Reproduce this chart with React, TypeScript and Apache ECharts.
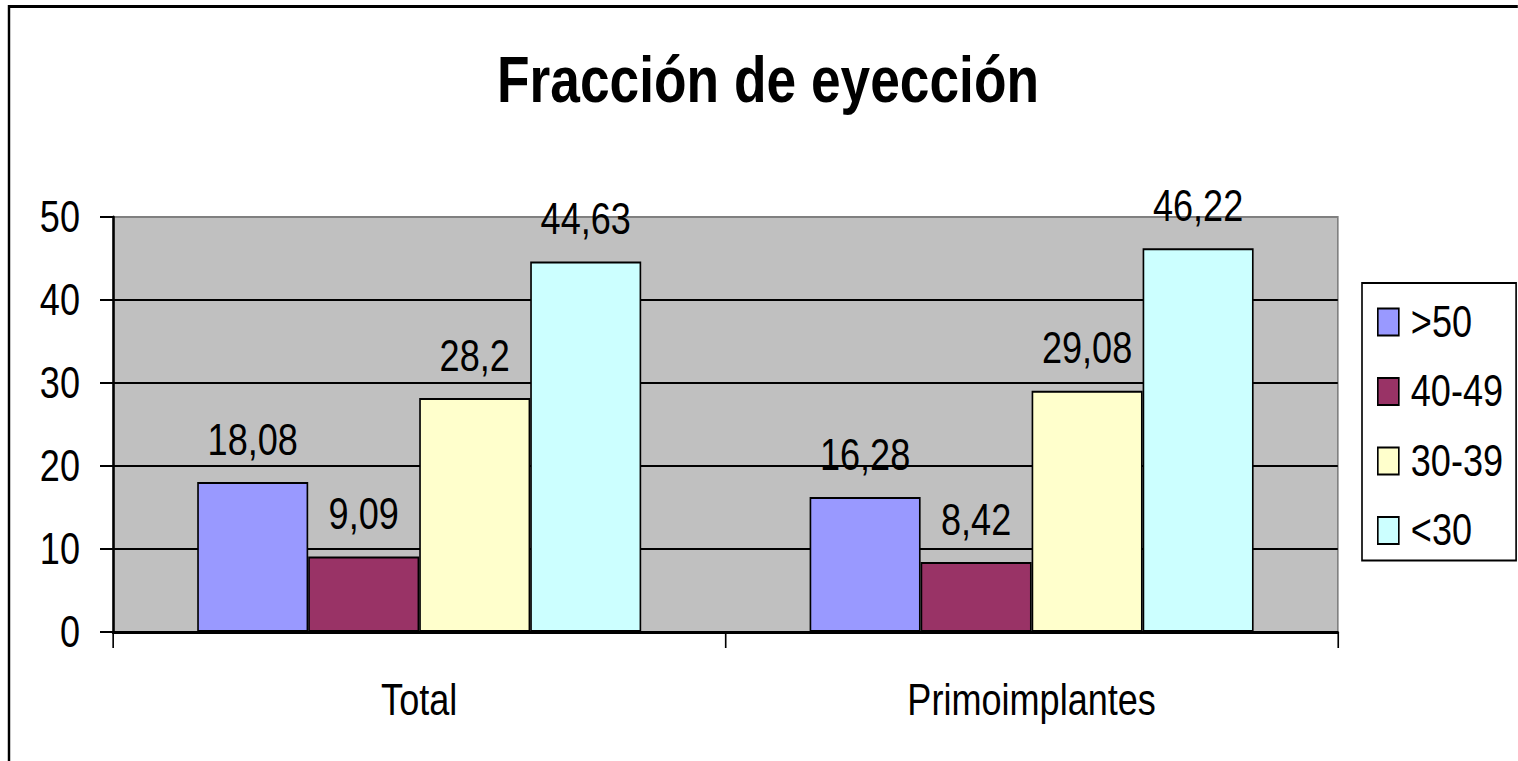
import React, { useEffect, useRef } from "react";
import * as echarts from "echarts";

const categories = ["Total", "Primoimplantes"];
const seriesNames = [">50", "40-49", "30-39", "<30"];
const seriesColors = ["#9999FF", "#993366", "#FFFFCC", "#CCFFFF"];
const valuesGt50 = [18.08, 16.28];
const values40to49 = [9.09, 8.42];
const values30to39 = [28.2, 29.08];
const valuesLt30 = [44.63, 46.22];
const yTicks = { min: 0, max: 50, interval: 10 };
const titleText = "Fracción de eyección";

const FONT = '"Liberation Sans", Arial, sans-serif';
// The reference uses a horizontally condensed typeface; the whole chart is
// drawn wider and squeezed horizontally so the text keeps that narrow look.
const SX = 0.82;
const W = 1518;
const H = 761;
const IW = W / SX;
const px = (x: number) => x / SX;

export default function App() {
  const ref = useRef<HTMLDivElement>(null);
  useEffect(() => {
    if (!ref.current) return;
    const chart = echarts.init(ref.current, null, { renderer: "svg" });
    const allValues = [valuesGt50, values40to49, values30to39, valuesLt30];
    chart.setOption({
      animation: false,
      backgroundColor: "#ffffff",
      graphic: [
        {
          type: "rect",
          shape: { x: px(9), y: 6.5, width: 3000, height: 2000 },
          style: { fill: "none", stroke: "#000", lineWidth: 3 },
          silent: true,
          z: 100,
        },
        {
          type: "text",
          x: px(768),
          y: 80,
          style: {
            text: titleText,
            fontSize: 65,
            fontWeight: "bold",
            fontFamily: FONT,
            fill: "#000",
            textAlign: "center",
            textVerticalAlign: "middle",
          },
        },
      ],
      legend: {
        orient: "vertical",
        left: px(1362),
        top: 283,
        data: seriesNames,
        itemWidth: px(21),
        itemHeight: 27,
        itemGap: 25.5,
        padding: [17, px(13), 8, px(15)],
        borderColor: "#000",
        borderWidth: 2,
        backgroundColor: "#fff",
        icon: "rect",
        textStyle: {
          fontFamily: FONT,
          fontSize: 44,
          lineHeight: 44,
          color: "#000",
          padding: [0, 0, 0, px(12) - 5],
        },
      },
      grid: {
        left: px(113),
        right: px(180),
        top: 217,
        bottom: 129,
        show: true,
        backgroundColor: "#C0C0C0",
        borderColor: "#808080",
        borderWidth: 2,
      },
      xAxis: {
        type: "category",
        data: categories,
        axisLine: { show: true, lineStyle: { color: "#000", width: 3 } },
        axisTick: { show: true, length: 16, lineStyle: { color: "#000", width: 2 } },
        axisLabel: {
          fontFamily: FONT,
          fontSize: 44,
          color: "#000",
          margin: 46,
        },
        splitLine: { show: false },
      },
      yAxis: {
        type: "value",
        min: yTicks.min,
        max: yTicks.max,
        interval: yTicks.interval,
        axisLine: { show: true, lineStyle: { color: "#000", width: 3 } },
        axisTick: { show: true, length: px(13), lineStyle: { color: "#000", width: 2 } },
        axisLabel: {
          fontFamily: FONT,
          fontSize: 44,
          color: "#000",
          margin: px(33),
        },
        splitLine: {
          show: true,
          lineStyle: {
            color: ["#000", "#000", "#000", "#000", "#000", "#808080"],
            width: 2,
          },
        },
      },
      series: seriesNames.map((name, i) => ({
        name,
        type: "bar",
        data: allValues[i],
        barWidth: px(111),
        barGap: "0%",
        itemStyle: {
          color: seriesColors[i],
          borderColor: "#000",
          borderWidth: 2,
        },
        label: {
          show: true,
          position: "top",
          distance: 20,
          fontFamily: FONT,
          fontSize: 44,
          color: "#000",
          formatter: (p: any) => String(p.value).replace(".", ","),
        },
      })),
    });
    return () => chart.dispose();
  }, []);
  return (
    <div
      style={{
        position: "absolute",
        left: 0,
        top: 0,
        width: W,
        height: H,
        overflow: "hidden",
      }}
    >
      <div
        ref={ref}
        style={{
          width: IW,
          height: H,
          transform: `scaleX(${SX})`,
          transformOrigin: "0 0",
        }}
      />
    </div>
  );
}
